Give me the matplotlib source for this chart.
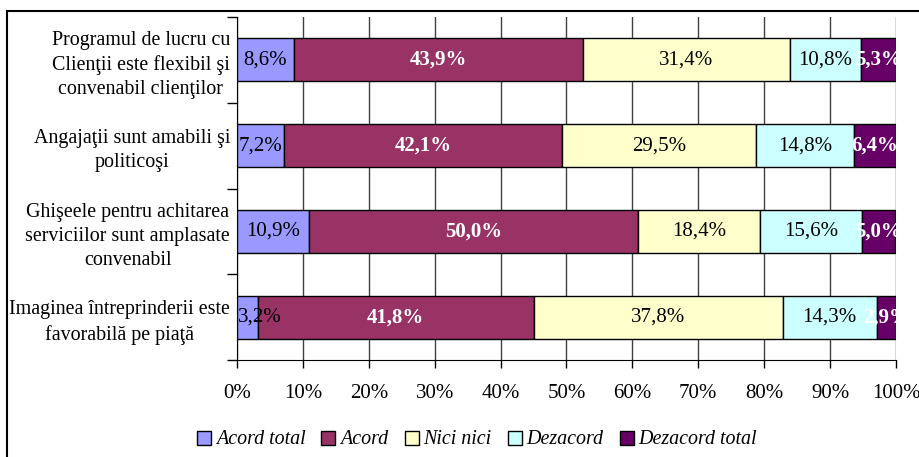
import matplotlib.pyplot as plt
from matplotlib.patches import Rectangle
import numpy as np

categories = [
    'Programul de lucru cu\nClienţii este flexibil şi\nconvenabil clienţilor',
    'Angajaţii sunt amabili şi\npoliticoşi',
    'Ghişeele pentru achitarea\nserviciilor sunt amplasate\nconvenabil',
    'Imaginea întreprinderii este\nfavorabilă pe piaţă',
]
series_names = ['Acord total', 'Acord', 'Nici nici', 'Dezacord', 'Dezacord total']
acord_total = [8.6, 7.2, 10.9, 3.2]
acord = [43.9, 42.1, 50.0, 41.8]
nici_nici = [31.4, 29.5, 18.4, 37.8]
dezacord = [10.8, 14.8, 15.6, 14.3]
dezacord_total = [5.3, 6.4, 5.0, 2.9]
x_ticks = [0, 10, 20, 30, 40, 50, 60, 70, 80, 90, 100]

colors = ['#9999FF', '#993366', '#FFFFCC', '#CCFFFF', '#660066']
label_colors = ['black', 'white', 'black', 'black', 'white']
label_weights = ['normal', 'bold', 'normal', 'normal', 'bold']

FS = 15


def fmt(v):
    return f'{v:.1f}%'.replace('.', ',')


def main():
    plt.rcParams['font.family'] = ['Liberation Serif', 'DejaVu Serif']
    fig = plt.figure(figsize=(9.2, 4.57), dpi=100)
    ax = fig.add_axes([237 / 920, 1 - 360 / 457, 659 / 920, 343 / 457])

    data = [acord_total, acord, nici_nici, dezacord, dezacord_total]
    y = np.arange(len(categories))
    left = np.zeros(len(categories))
    for i, vals in enumerate(data):
        vals = np.array(vals)
        bars = ax.barh(y, vals, left=left, height=0.5, color=colors[i],
                       edgecolor='black', linewidth=1, label=series_names[i],
                       zorder=3)
        for b, v in zip(bars, vals):
            # keep labels from spilling past the left edge of the plot
            xc = max(b.get_x() + b.get_width() / 2, 3.5)
            ax.text(xc, b.get_y() + b.get_height() / 2,
                    fmt(v), ha='center', va='center', fontsize=FS,
                    color=label_colors[i], fontweight=label_weights[i], zorder=4)
        left += vals

    ax.set_xlim(0, 100)
    ax.set_ylim(3.5, -0.5)
    ax.set_xticks(x_ticks)
    ax.set_xticklabels([f'{t}%' for t in x_ticks], fontsize=FS)
    ax.tick_params(axis='x', direction='out', length=6, width=1, pad=11)
    ax.set_yticks(y)
    ax.set_yticklabels(categories, fontsize=14.4, multialignment='center',
                       linespacing=1.38)
    ax.set_yticks(np.arange(-0.5, 4.0, 1), minor=True)
    ax.tick_params(axis='y', which='major', length=0, pad=5)
    ax.tick_params(axis='y', which='minor', length=7, width=1)
    ax.grid(axis='x', color='#404040', linewidth=1, zorder=0)
    ax.spines['top'].set_visible(False)
    ax.spines['right'].set_visible(False)

    fig.legend(loc='center', bbox_to_anchor=(477 / 920, 1 - 440 / 457), ncol=5,
               frameon=False, prop={'style': 'italic', 'size': 14.4},
               handlelength=0.7, handleheight=0.7, handletextpad=0.25,
               columnspacing=0.8)

    fig.patches.append(Rectangle((7 / 920, -0.2), 1.2, 1.2 - 11 / 457,
                                 transform=fig.transFigure, fill=False,
                                 edgecolor='black', linewidth=1.5))

    fig.savefig('out.png', dpi=100)


if __name__ == '__main__':
    main()
